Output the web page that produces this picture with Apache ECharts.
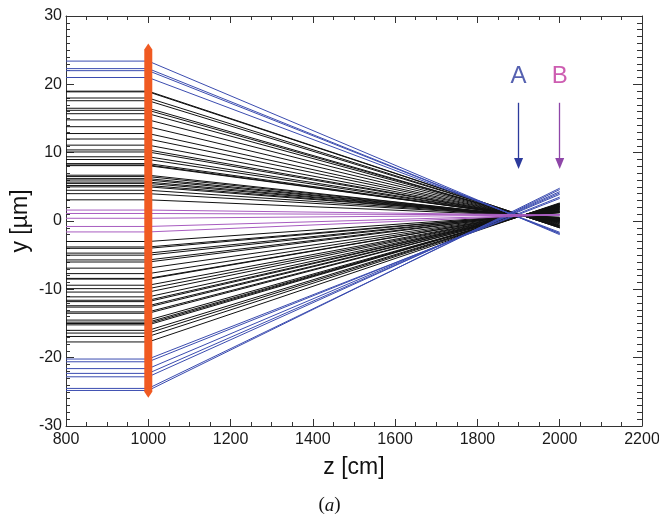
<!DOCTYPE html>
<html><head><meta charset="utf-8">
<script src="https://cdn.jsdelivr.net/npm/echarts@6/dist/echarts.min.js"></script>
<style>html,body{margin:0;padding:0;background:#fff}#c{width:659px;height:515px}</style>
</head><body><div id="c"></div>
<script>
// z positions (cm) of the path: start, lens, end
const zPath = [800, 1000, 2000];
// blue rays (outer) : y at start and y at z=2000
const blueStart = [23.4, 22.3, 22.0, 21.0, -20.2, -20.6, -21.6, -22.3, -22.8, -24.5, -24.8];
const blueEnd   = [-2.0, -1.85, -1.8, -1.65, 3.3, 3.5, 3.9, 4.1, 4.3, 4.6, 4.8];
// black rays
const blackStart = [19.0, 18.9, 18.0, 17.6, 16.5, 16.2, 15.7, 14.8, 13.8, 12.8, 12.0, 11.1, 10.4, 10.1, 9.4, 9.0, 8.4, 8.2, 8.1,
  6.7, 6.5, 6.2, 6.0, 5.7, 5.5, 5.2, 5.0, 4.5, 4.0, 3.1,
  -3.0, -3.8, -4.0, -4.7, -5.0, -5.7, -6.0, -6.9, -7.7, -8.4, -8.5, -9.4, -9.9, -10.4, -11.1, -11.6, -11.8,
  -12.4, -12.6, -13.3, -13.5, -14.5, -14.8, -15.0, -15.2, -16.0, -16.4, -16.9, -17.7];
const blackEnd = [-1.0, -1.0, -0.92, -0.88, -0.77, -0.74, -0.69, -0.6, -0.5, -0.4, -0.32, -0.23, -0.16, -0.13, -0.06, -0.02, 0.04, 0.06, 0.07,
  0.21, 0.23, 0.26, 0.28, 0.31, 0.33, 0.36, 0.38, 0.43, 0.48, 0.57,
  1.18, 1.26, 1.28, 1.35, 1.38, 1.45, 1.48, 1.57, 1.65, 1.72, 1.73, 1.82, 1.87, 1.92, 1.99, 2.04, 2.06,
  2.12, 2.14, 2.21, 2.23, 2.33, 2.36, 2.38, 2.4, 2.48, 2.52, 2.57, 2.65];
// magenta rays (near axis)
const magentaStart = [1.6, 1.1, 0.4, -0.8, -1.6];
const magentaEnd   = [0.85, 0.87, 0.89, 0.92, 0.95];
// lens bar at z=1000
const lensZ = 1000, lensY = [-25.0, 25.1];
// markers
const markers = [{name:'A', z:1900}, {name:'B', z:2000}];
const markerY = [17.3, 8.4];
const labelY = 21.2;

const series = [];
function addRays(starts, ends, color, w){
  starts.forEach((y0,i)=>{
    series.push({type:'line', data:[[zPath[0],y0],[zPath[1],y0],[zPath[2],ends[i]]],
      symbol:'none', silent:true, animation:false, z:2,
      lineStyle:{color:color, width:w}});
  });
}
addRays(blackStart, blackEnd, '#111', 1);
addRays(blueStart, blueEnd, '#3b4cb0', 1);
addRays(magentaStart, magentaEnd, '#a85cc0', 1);

// lens bar
series.push({type:'line', z:5, animation:false, silent:true,
  data:[[lensZ,lensY[0]],[lensZ,lensY[1]]],
  symbol:'diamond', symbolSize:[8,12], itemStyle:{color:'#f05a22'},
  lineStyle:{color:'#f05a22', width:8, cap:'butt'}});

const markerColors = {A:'#2c3a9c', B:'#8e46a8'};
const labelColors = {A:'#2c3a9c', B:'#c0359d'};
markers.forEach(m=>{
  series.push({type:'line', data:[], animation:false, silent:true,
    markLine:{silent:true, symbol:['none','triangle'], symbolSize:[9,11], animation:false,
      label:{show:false}, lineStyle:{color:markerColors[m.name], width:1.3, type:'solid'},
      data:[[{coord:[m.z,markerY[0]]},{coord:[m.z,markerY[1]]}]]}});
  series.push({type:'scatter', data:[[m.z,labelY]], symbolSize:0, animation:false, silent:true,
    label:{show:true, position:'inside', formatter:m.name, color:labelColors[m.name],
      fontFamily:'Liberation Sans', fontSize:24}});
});

const font = 'Liberation Sans';
const plain = v => String(v);
const axLine = {onZero:false, show:true, lineStyle:{color:'#333', width:1}};
const chart = echarts.init(document.getElementById('c'), null, {renderer:'canvas'});
chart.setOption({
  backgroundColor:'#fff',
  animation:false,
  grid:{left:66, right:17, top:16, bottom:89, containLabel:false, outerBoundsMode:'none'},
  xAxis:[
    {type:'value', min:800, max:2200, interval:200, position:'bottom',
     name:'z [cm]', nameLocation:'middle', nameGap:30,
     nameTextStyle:{fontFamily:font, fontSize:23, color:'#111'},
     axisLine:axLine,
     axisTick:{inside:true, length:7, lineStyle:{color:'#333'}},
     minorTick:{show:true, splitNumber:4, length:4, lineStyle:{color:'#333'}},
     splitLine:{show:false},
     axisLabel:{fontFamily:font, fontSize:16, color:'#1a1a1a', margin:6, formatter:plain}},
    {type:'value', min:800, max:2200, interval:200, position:'top',
     axisLine:axLine,
     axisTick:{inside:true, length:7, lineStyle:{color:'#333'}},
     minorTick:{show:true, splitNumber:4, length:4, lineStyle:{color:'#333'}},
     splitLine:{show:false}, axisLabel:{show:false}}
  ],
  yAxis:[
    {type:'value', min:-30, max:30, interval:10, position:'left',
     name:'y [µm]', nameLocation:'middle', nameGap:34, nameMoveOverlap:false,
     nameTextStyle:{fontFamily:font, fontSize:23, color:'#111'},
     axisLine:axLine,
     axisTick:{show:true, inside:true, length:8, lineStyle:{color:'#333'}},
     minorTick:{show:true, splitNumber:10, length:4, lineStyle:{color:'#333'}},
     splitLine:{show:false},
     axisLabel:{fontFamily:font, fontSize:16, color:'#1a1a1a', margin:4, formatter:plain}},
    {type:'value', min:-30, max:30, interval:10, position:'right',
     axisLine:axLine,
     axisTick:{show:true, inside:true, length:9, lineStyle:{color:'#333'}},
     minorTick:{show:true, splitNumber:10, length:5, lineStyle:{color:'#333'}},
     splitLine:{show:false}, axisLabel:{show:false}}
  ],
  graphic:[{type:'text', left:'center', top:496,
    style:{rich:{n:{fontFamily:'Liberation Serif', fontSize:19, fill:'#111'},
                 i:{fontFamily:'Liberation Serif', fontSize:19, fontStyle:'italic', fill:'#111'}},
           text:'{n|(}{i|a}{n|)}'}}],
  series:series
});
</script></body></html>
